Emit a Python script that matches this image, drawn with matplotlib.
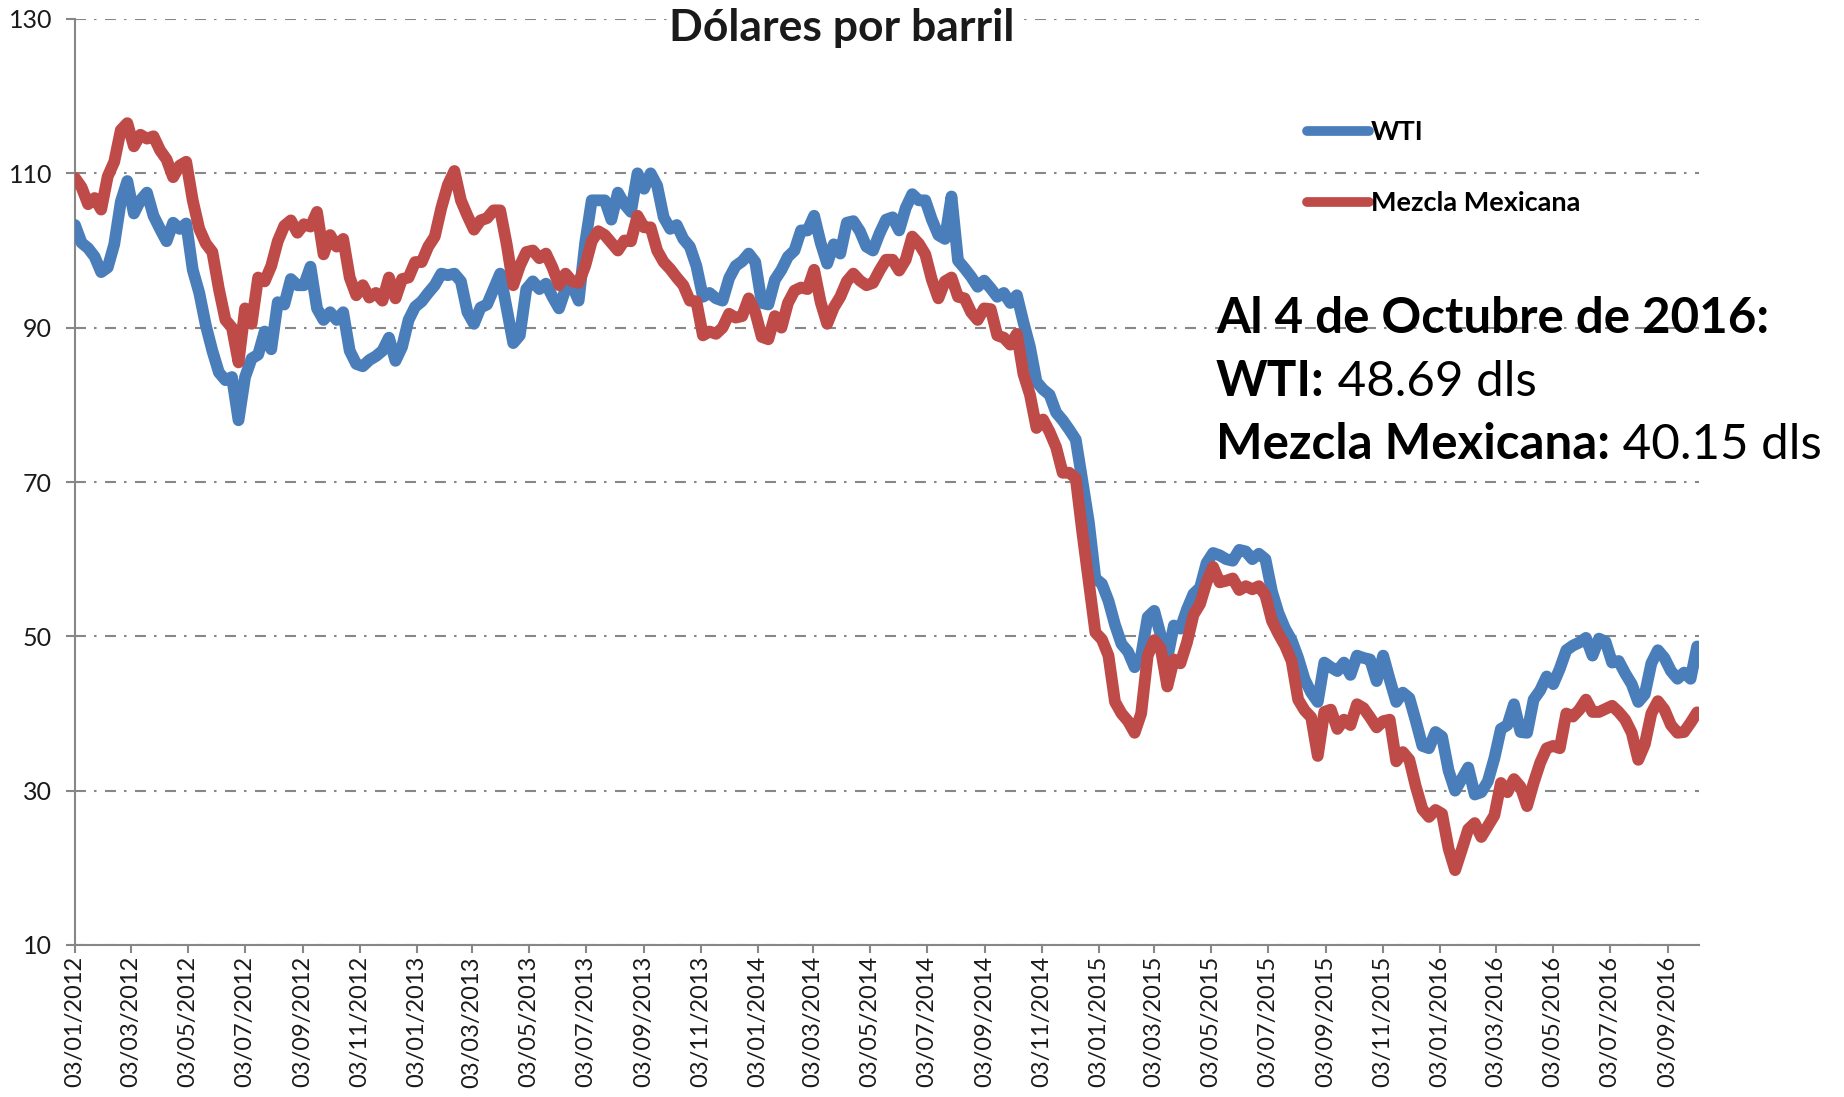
import matplotlib
matplotlib.use("Agg")
import matplotlib.pyplot as plt
import matplotlib.dates as mdates
import pandas as pd

plt.rcParams['font.family'] = ['Lato', 'DejaVu Sans']
plt.rcParams['lines.scale_dashes'] = False

# weekly closes, Tuesday to Tuesday (03/01/2012 - 04/10/2016), usd per barrel
semanas = pd.date_range('2012-01-03', '2016-10-04', freq='7D')

wti = [
    103.3, 101.0, 100.3, 99.2, 97.2, 97.8, 100.8, 106.3, 109.0, 104.8, 106.5, 107.5,
    104.5, 102.8, 101.2, 103.6, 102.8, 103.5, 97.5, 94.5, 90.3, 87.0, 84.2, 83.2,
    83.6, 78.0, 83.6, 86.0, 86.5, 89.5, 87.2, 93.3, 93.0, 96.3, 95.5, 95.5,
    97.9, 92.5, 91.0, 92.0, 91.0, 92.0, 87.0, 85.3,
    85.0, 85.8, 86.3, 87.0, 88.7, 85.7, 87.5, 91.0, 92.7, 93.4, 94.5, 95.5,
    97.0, 96.8, 97.0, 96.0, 92.0, 90.5, 92.6, 93.0, 95.0, 97.0, 92.5, 88.0,
    89.0, 95.0, 96.0, 95.0, 95.7, 94.0, 92.5, 95.0, 95.5, 93.5, 101.0, 106.5,
    106.5, 106.5, 104.0, 107.5, 106.0, 105.0, 110.0,
    108.0, 110.0, 108.4, 104.3, 102.8, 103.3, 101.5, 100.5, 98.0, 94.0, 94.5, 93.8,
    93.5, 96.4, 98.0, 98.6, 99.6, 98.5, 93.2, 93.0, 96.2, 97.5, 99.2, 100.0,
    102.6, 102.6, 104.5, 101.0, 98.3, 100.8, 99.6, 103.6, 103.8, 102.5, 100.5, 100.0,
    102.2, 104.0, 104.3, 102.6, 105.5, 107.3, 106.5,
    106.5, 104.0, 102.0, 101.5, 107.0, 98.7, 97.7, 96.6, 95.3, 96.1, 95.1, 94.0,
    94.5, 93.2, 94.2, 90.7, 87.5, 83.0, 82.0, 81.3, 79.0, 78.0, 76.8, 75.5,
    70.2, 64.8, 57.5, 56.8, 54.6, 51.5, 49.0, 48.0, 46.0, 47.5, 52.5, 53.3,
    50.1, 47.2, 51.4, 51.0, 53.5, 55.5, 56.3, 59.5, 60.8, 60.5, 60.0, 59.8,
    61.2, 61.0, 60.0, 60.7, 60.0, 55.8, 53.0, 51.0, 49.5, 47.2, 44.4, 42.7,
    41.5, 46.6, 46.0, 45.5, 46.6, 45.0, 47.5, 47.2, 47.0, 44.2, 47.5, 44.4,
    41.5, 42.7, 42.0, 39.0, 35.8, 35.5, 37.6,
    37.0, 32.6, 30.0, 31.5, 33.0, 29.5, 29.8, 31.2, 34.2, 38.0, 38.5, 41.2,
    37.6, 37.5, 41.8, 43.0, 44.8, 43.8, 45.8, 48.2, 48.8, 49.2, 49.8, 47.5,
    49.7, 49.3, 46.6, 46.8, 45.2, 43.8, 41.5, 42.5, 46.5, 48.2, 47.2, 45.5,
    44.5, 45.3, 44.5, 48.69,
]

mezcla = [
    109.4, 108.2, 106.0, 106.8, 105.3, 109.6, 111.5, 115.6, 116.5, 113.5, 115.0, 114.5,
    114.8, 113.0, 111.8, 109.5, 111.0, 111.5, 106.5, 102.8, 100.9, 99.8, 95.0, 91.0,
    90.0, 85.5, 92.5, 90.5, 96.5, 96.0, 98.0, 101.2, 103.2, 103.9, 102.3, 103.4,
    103.1, 105.0, 99.5, 102.0, 100.5, 101.5, 96.5, 94.2,
    95.5, 93.9, 94.5, 93.5, 96.5, 93.8, 96.3, 96.5, 98.5, 98.5, 100.5, 101.8,
    105.5, 108.5, 110.3, 106.5, 104.5, 102.7, 103.9, 104.2, 105.2, 105.2, 100.8, 95.5,
    98.0, 99.8, 100.0, 99.0, 99.6, 97.8, 95.5, 97.0, 96.0, 95.8, 98.0, 101.2,
    102.5, 102.0, 101.0, 100.0, 101.3, 101.2, 104.5,
    103.0, 103.0, 100.0, 98.5, 97.6, 96.5, 95.5, 93.5, 93.4, 89.0, 89.5, 89.2,
    90.0, 91.8, 91.3, 91.5, 93.8, 92.0, 88.8, 88.5, 91.5, 90.0, 93.2, 94.8,
    95.2, 95.0, 97.5, 93.3, 90.5, 92.6, 94.0, 96.0, 97.0, 96.1, 95.5, 95.8,
    97.4, 98.8, 98.8, 97.4, 98.8, 101.8, 100.9,
    99.5, 96.2, 93.8, 96.0, 96.5, 94.0, 93.8, 92.0, 91.0, 92.5, 92.4, 89.0,
    88.7, 87.8, 89.2, 84.0, 81.3, 77.0, 78.1, 76.5, 74.5, 71.2, 71.2, 70.5,
    63.5, 57.0, 50.5, 49.6, 47.5, 41.5, 40.0, 39.0, 37.5, 40.0, 47.5, 49.5,
    48.4, 43.5, 47.0, 46.5, 49.2, 52.8, 54.2, 57.0, 59.0, 57.0, 57.2, 57.5,
    56.0, 56.5, 56.1, 56.5, 55.3, 52.0, 50.3, 48.8, 46.8, 41.8, 40.4, 39.5,
    34.5, 40.2, 40.5, 38.0, 39.2, 38.5, 41.2, 40.7, 39.5, 38.2, 39.0, 39.2,
    33.8, 35.0, 34.0, 30.5, 27.6, 26.6, 27.5,
    27.0, 22.5, 19.7, 22.3, 25.0, 25.8, 24.0, 25.4, 26.8, 31.0, 29.8, 31.5,
    30.5, 28.0, 31.0, 33.6, 35.5, 35.8, 35.5, 40.0, 39.6, 40.5, 41.8, 40.2,
    40.2, 40.6, 41.0, 40.2, 39.2, 37.5, 34.0, 36.0, 40.0, 41.6, 40.5, 38.5,
    37.5, 37.6, 38.8, 40.15,
]

gris = '#878787'
azul = '#4A7EBB'
rojo = '#BE4B48'

fig = plt.figure(figsize=(18.44, 10.97), dpi=100)
ax = fig.add_axes([75 / 1844, 1 - 945 / 1097, 1624 / 1844, 926 / 1097])

ax.plot(semanas, wti, color=azul, lw=8.5, solid_capstyle='round',
        solid_joinstyle='round', label='WTI', zorder=3)
ax.plot(semanas, mezcla, color=rojo, lw=8.5, solid_capstyle='round',
        solid_joinstyle='round', label='Mezcla Mexicana', zorder=4)

ax.set_ylim(10, 130)
ax.set_yticks(range(10, 131, 20))
ax.set_xlim(pd.Timestamp('2012-01-03'), pd.Timestamp('2016-10-06'))
ax.xaxis.set_major_locator(mdates.MonthLocator(bymonth=[1, 3, 5, 7, 9, 11], bymonthday=3))
ax.xaxis.set_major_formatter(mdates.DateFormatter('%d/%m/%Y'))

ax.tick_params(axis='x', rotation=90, labelsize=17, length=6, width=1.5,
               color=gris, pad=2, labelcolor='#1a1a1a')
ax.tick_params(axis='y', labelsize=18, length=6.5, width=1.5,
               color=gris, pad=10, labelcolor='#1a1a1a')

for lado in ['top', 'right']:
    ax.spines[lado].set_visible(False)
for lado in ['left', 'bottom']:
    ax.spines[lado].set_color(gris)
    ax.spines[lado].set_linewidth(1.5)

ax.yaxis.grid(True, color=gris, lw=1.5, ls=(0, (7.9, 5.8, 1.8, 6.1)))
ax.set_axisbelow(True)

fig.text(842 / 1844, 1 - 28 / 1097, 'Dólares por barril', ha='center', va='center',
         fontsize=32, fontweight='bold', color='#1a1a1a',
         bbox=dict(fc='white', ec='none', pad=2))

leyenda = ax.legend(loc='upper left', bbox_to_anchor=(1307 / 1844, 1 - 120 / 1097),
                    bbox_transform=fig.transFigure, frameon=False,
                    prop={'weight': 'bold', 'size': 19.5}, handlelength=2.3,
                    handletextpad=0.05, labelspacing=1.75, borderpad=0, borderaxespad=0)
for linea in leyenda.get_lines():
    linea.set_linewidth(7)

# nota con el último dato
renglones = [
    ('Al 4 de Octubre de 2016:', ''),
    ('WTI:', ' %.2f dls' % wti[-1]),
    ('Mezcla Mexicana:', ' %.2f dls' % mezcla[-1]),
]
for i, (negrita, normal) in enumerate(renglones):
    t = fig.text(1216 / 1844, 1 - (333 + 63 * i) / 1097, negrita, ha='left',
                 va='baseline', fontsize=35.5, fontweight='bold', color='black')
    if normal:
        ax.annotate(normal, xy=(1, 0), xycoords=t, ha='left', va='bottom',
                    fontsize=35.5, color='black', annotation_clip=False)

fig.savefig('out.png', dpi=100)
